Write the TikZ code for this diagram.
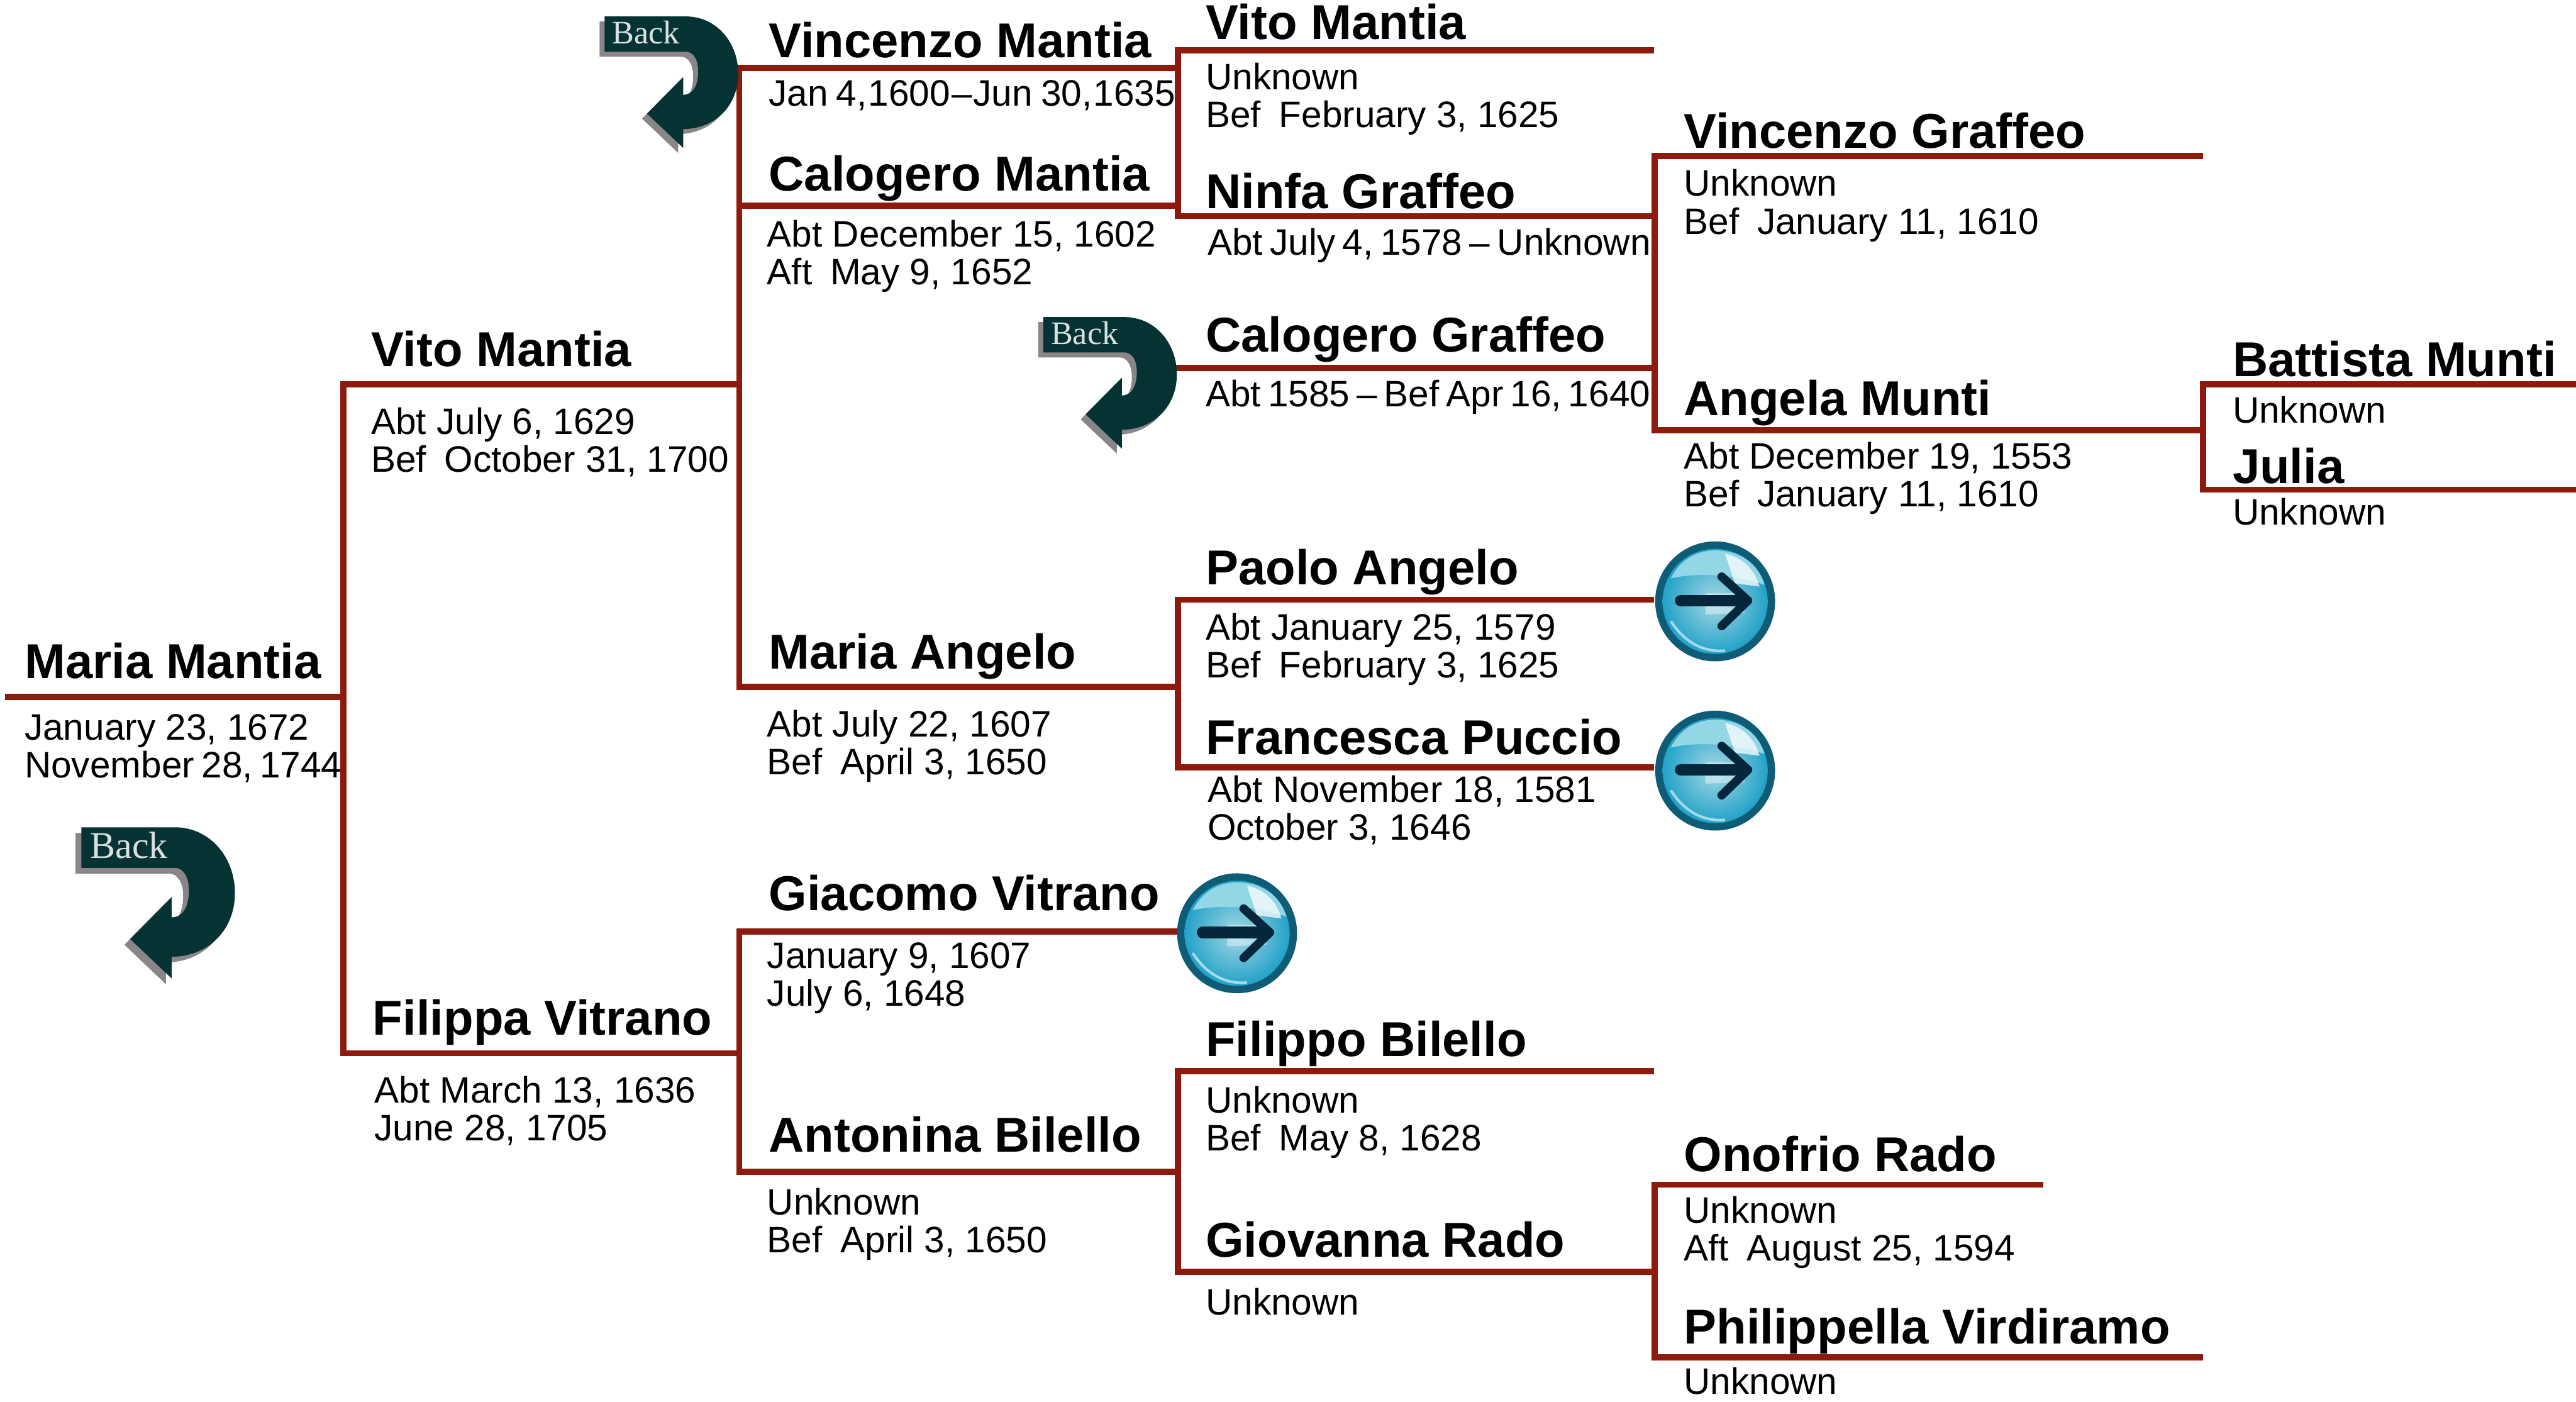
\documentclass[tikz,border=0pt]{standalone}
\usepackage{fontspec}
\setmainfont{Liberation Sans}
\newfontfamily\backfont{Liberation Serif}
\usetikzlibrary{shadings}
\definecolor{treeline}{HTML}{8E1A0E}
\definecolor{arrowteal}{HTML}{053333}
\definecolor{arrowshade}{HTML}{8A8588}
\definecolor{btnnavy}{HTML}{06263C}
\definecolor{btnring}{HTML}{0F5C76}
\definecolor{btnmid}{HTML}{22A2C8}
\definecolor{btnlight}{HTML}{A6D8E4}
\definecolor{btnband}{HTML}{93D6E6}
\newcommand{\wordgap}[1]{\spaceskip=#1\relax}
\newcommand{\wide}{\hspace{.49em}}
\tikzset{
  x=0.5pt,y=-0.5pt,
  link/.style={draw=treeline,line width=1.9pt,line cap=rect},
  person/.style={anchor=base west,inner sep=0pt,outer sep=0pt,font=\fontsize{14.9}{15}\selectfont\bfseries},
  life/.style={anchor=base west,inner sep=0pt,outer sep=0pt,yshift=.3pt,font=\fontsize{11.2}{11.5}\selectfont,align=left},
  backarrow/.pic={
    \def\arrowshape{(0,0) -- (57,0) .. controls (78,0) and (93.5,18) .. (93.5,40)
      .. controls (93.5,62) and (78,78.5) .. (55,78.8) -- (55,92) -- (29.7,68) -- (55,42.4) -- (55,54.8)
      .. controls (62,54.8) and (65.5,48) .. (65.5,38.4) .. controls (65.5,30) and (62,24.7) .. (57,24.7) -- (0,24.7) -- cycle}
    \fill[arrowshade] [shift={(-3.5,3.5)}] \arrowshape;
    \fill[arrowteal] \arrowshape;
    \node[anchor=base west,inner sep=0pt,text=white!85!arrowteal,font=\fontsize{11.5}{11.5}\selectfont\backfont] (lbl) at (5,19) {Back};
  },
  forwardbutton/.pic={
    \fill[btnring] (0,0) circle (36.5);
    \shade[inner color=btnlight,outer color=btnmid] (0,0) circle (32);
    % upper light band
    \fill[btnband] (-27,-14) .. controls (-20,-28) and (-8,-31) .. (0,-31) .. controls (14,-31) and (26,-24) .. (30,-10)
      .. controls (15,-16) and (-10,-18) .. (-27,-14) -- cycle;
    % glare on the upper right
    \fill[white,opacity=.75] (6,-29) .. controls (16,-27) and (24,-20) .. (27,-9) -- (12,-11) -- cycle;
    \fill[white,opacity=.4] (-6,-5) -- (16,-5) -- (18,7) -- (-6,8) -- cycle;
    % lower crescent
    \draw[white!60!btnmid,line width=.8pt] (-27,12) .. controls (-18,26) and (-6,31) .. (6,30);
    \draw[btnnavy,line width=3.5pt,line cap=round,line join=round] (-21,-.5) -- (18,-.5);
    \draw[btnnavy,line width=2.6pt,line cap=round,line join=round] (4,-15) -- (20,-.5) -- (4,15);
  },
}
\begin{document}
\begin{tikzpicture}
\useasboundingbox (0,0) rectangle (1568,853);
% people
\node[person] (n01) at (15,413) {Maria Mantia};
\node[life] (d01) at (15,474) {January 23, 1672\\\wordgap{2.2pt}November 28, 1744};
\node[person] (n02) at (226,223) {Vito Mantia};
\node[life]   (d02) at (226,288) {Abt July 6, 1629\\Bef\wide October 31, 1700};
\node[person] (n03) at (227,630) {Filippa Vitrano};
\node[life]   (d03) at (228,695) {Abt March 13, 1636\\June 28, 1705};
\node[person] (n04) at (468,35) {Vincenzo Mantia};
\node[life] (d04) at (468,65) {\wordgap{.4pt}Jan\hspace{2.5pt}4, 1600 -- Jun\hspace{2.5pt}30, 1635};
\node[person] (n05) at (468,116) {Calogero Mantia};
\node[life]   (d05) at (467,174) {Abt December 15, 1602\\Aft\wide May 9, 1652};
\node[person] (n06) at (468,407) {Maria Angelo};
\node[life]   (d06) at (467,472) {Abt July 22, 1607\\Bef\wide April 3, 1650};
\node[person] (n07) at (468,554) {Giacomo Vitrano};
\node[life]   (d07) at (467,613) {January 9, 1607\\July 6, 1648};
\node[person] (n08) at (468,701) {Antonina Bilello};
\node[life]   (d08) at (467,763) {Unknown\\Bef\wide April 3, 1650};
\node[person] (n09) at (734,24) {Vito Mantia};
\node[life]   (d09) at (734,78) {Unknown\\Bef\wide February 3, 1625};
\node[person] (n10) at (734,127) {Ninfa Graffeo};
\node[life] (d10) at (735,156) {\wordgap{2.2pt}Abt July 4, 1578 -- Unknown};
\node[person] (n11) at (734,214) {Calogero Graffeo};
\node[life] (d11) at (734,248) {\wordgap{2.1pt}Abt 1585 -- Bef Apr 16, 1640};
\node[person] (n12) at (734,356) {Paolo Angelo};
\node[life]   (d12) at (734,413) {Abt January 25, 1579\\Bef\wide February 3, 1625};
\node[person] (n13) at (734,459) {Francesca Puccio};
\node[life]   (d13) at (735,512) {Abt November 18, 1581\\October 3, 1646};
\node[person] (n14) at (734,643) {Filippo Bilello};
\node[life]   (d14) at (734,701) {Unknown\\Bef\wide May 8, 1628};
\node[person] (n15) at (734,765) {Giovanna Rado};
\node[life]   (d15) at (734,801) {Unknown};
\node[person] (n16) at (1025,90) {Vincenzo Graffeo};
\node[life]   (d16) at (1025,143) {Unknown\\Bef\wide January 11, 1610};
\node[person] (n17) at (1025,253) {Angela Munti};
\node[life]   (d17) at (1025,309) {Abt December 19, 1553\\Bef\wide January 11, 1610};
\node[person] (n18) at (1025,713) {Onofrio Rado};
\node[life]   (d18) at (1025,768) {Unknown\\Aft\wide August 25, 1594};
\node[person] (n19) at (1025,818) {Philippella Virdiramo};
\node[life]   (d19) at (1025,849) {Unknown};
\node[person] (n20) at (1359,229) {Battista Munti};
\node[life]   (d20) at (1359,258) {Unknown};
\node[person] (n21) at (1359,294) {Julia};
\node[life]   (d21) at (1359,320) {Unknown};
% line ends
\coordinate (x0) at (5,424);
\foreach \nm/\px/\py in {a/209/424,b/209/234,c/209/641,
  d/450/234,e/450/641,f/450/41.5,g/450/125,h/450/418,i/450/567,j/450/713,
  k/717/41.5,l/717/125,m/717/418,n/717/30.5,o/717/131.5,p/717/224,q/717/365,r/717/467,s/717/567,t/717/713,u/717/652,v/717/774,
  w/1005/30.5,y/1005/131.5,z/1005/224,aa/1007/95,ab/1007/262,ac/1005/365,ad/1005/467,ae/1005/652,af/1005/774,ag/1007/721,ah/1007/826,
  ai/1339/95,aj/1341/262,ak/1341/234,al/1341/298,am/1242/721,an/1339/826,ao/1568/234,ap/1568/298}
  {\coordinate (\nm) at (\px,\py);}
% connectors
\draw[link] (x0) -- (a);
\draw[link] (b) -- (c);
\draw[link] (b) -- (d);
\draw[link] (c) -- (e);
\draw[link] (f) -- (h);
\draw[link] (f) -- (k);
\draw[link] (g) -- (l);
\draw[link] (h) -- (m);
\draw[link] (i) -- (j);
\draw[link] (i) -- (s);
\draw[link] (j) -- (t);
\draw[link] (n) -- (o);
\draw[link] (n) -- (w);
\draw[link] (o) -- (y);
\draw[link] (p) -- (z);
\draw[link] (q) -- (r);
\draw[link] (q) -- (ac);
\draw[link] (r) -- (ad);
\draw[link] (u) -- (v);
\draw[link] (u) -- (ae);
\draw[link] (v) -- (af);
\draw[link] (aa) -- (ab);
\draw[link] (aa) -- (ai);
\draw[link] (ab) -- (aj);
\draw[link] (ak) -- (al);
\draw[link] (ak) -- (ao);
\draw[link] (al) -- (ap);
\draw[link] (ag) -- (ah);
\draw[link] (ag) -- (am);
\draw[link] (ah) -- (an);
% buttons
\pic (b1) at (49.5,503.5) {backarrow};
\pic[scale=.87,transform shape] (b2) at (368,10) {backarrow};
\pic[scale=.87,transform shape] (b3) at (635,193) {backarrow};
\pic (f1) at (1044,366) {forwardbutton};
\pic (f2) at (1044,469) {forwardbutton};
\pic (f3) at (753,568) {forwardbutton};
\end{tikzpicture}
\end{document}
